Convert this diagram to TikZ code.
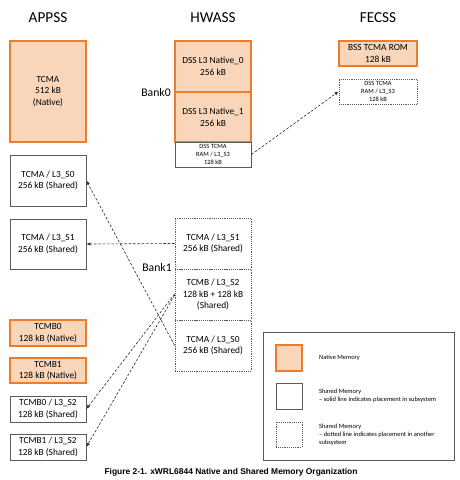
\documentclass[tikz,border=0pt]{standalone}
\usepackage{fontspec}
\setmainfont{Carlito}
\newfontfamily\capfont{Liberation Sans}
\usepackage[HTML]{xcolor}
\usepackage{tikz}
\usetikzlibrary{positioning, arrows, arrows.meta}

\definecolor{natline}{HTML}{EE7D2B}
\definecolor{natfill}{HTML}{F9D5B9}
\definecolor{boxline}{HTML}{5A5A5A}

\tikzset{
    membox/.style={rectangle, inner sep=0pt, align=center, minimum width=2.28cm, font=\fontsize{8}{10}\selectfont},
    native/.style={membox, draw=natline, fill=natfill, line width=1pt},
    shared/.style={membox, draw=boxline, line width=0.6pt},
    remote/.style={membox, draw=boxline, densely dotted, line width=0.6pt},
    link/.style={dashed, dash pattern=on 2.2pt off 1.5pt, line width=0.55pt, draw=black!80, -{Latex[length=3.5pt, width=3pt]}},
    title/.style={font=\fontsize{13}{15}\selectfont},
    tiny/.style={font=\fontsize{5.5}{7}\selectfont}
}

\begin{document}
\begin{tikzpicture}[x=0.03cm, y=-0.03cm]
\useasboundingbox (0,0) rectangle (460,480);

\node[title] (appss) at (48, 18) {APPSS};
\node[title] (hwass) at (213, 18) {HWASS};
\node[title] (fecss) at (378, 18) {FECSS};

% APPSS
\node[native, minimum height=3.03cm] (appTcma) at (48, 91.5) {TCMA\\512 kB\\(Native)};
\node[shared, minimum height=1.53cm] (appS0) at (48, 180.5) {TCMA / L3\_S0\\256 kB (Shared)};
\node[shared, minimum height=1.5cm] (appS1) at (48, 244) {TCMA / L3\_S1\\256 kB (Shared)};
\node[native, minimum height=0.78cm] (tcmbZero) at (48, 333) {TCMB0\\128 kB (Native)};
\node[native, minimum height=0.75cm] (tcmbOne) at (48, 370.5) {TCMB1\\128 kB (Native)};
\node[shared, minimum height=0.78cm] (tcmbZeroS) at (48, 409) {TCMB0 / L3\_S2\\128 kB (Shared)};
\node[shared, minimum height=0.78cm] (tcmbOneS) at (48, 447) {TCMB1 / L3\_S2\\128 kB (Shared)};

% HWASS
\node[native, minimum height=1.53cm] (natZero) at (213, 66.5) {DSS L3 Native\_0\\256 kB};
\node[native, minimum height=1.5cm] (natOne) at (213, 117) {DSS L3 Native\_1\\256 kB};
\node[shared, tiny, minimum height=0.75cm] (hwS3) at (213, 154.5) {DSS TCMA\\RAM / L3\_S3\\128 kB};
\node[remote, minimum height=1.53cm] (hwS1) at (213, 243.5) {TCMA / L3\_S1\\256 kB (Shared)};
\node[remote, minimum height=1.53cm] (hwS2) at (213, 294.5) {TCMB / L3\_S2\\128 kB + 128 kB\\(Shared)};
\node[remote, minimum height=1.53cm] (hwS0) at (213, 345.5) {TCMA / L3\_S0\\256 kB (Shared)};

\node[font=\fontsize{10}{12}\selectfont] (bankZero) at (156, 92) {Bank0};
\node[font=\fontsize{10}{12}\selectfont] (bankOne) at (157, 267) {Bank1};

% FECSS
\node[native, minimum width=2.34cm, minimum height=0.75cm] (bssRom) at (378, 53.5) {BSS TCMA ROM\\128 kB};
\node[remote, tiny, minimum width=2.34cm, minimum height=0.75cm] (feS3) at (378, 91.5) {DSS TCMA\\RAM / L3\_S3\\128 kB};

% connectors
\draw[link] (hwS3.east) -- (feS3.west);
\draw[link] (hwS0.west) -- (appS0.east);
\draw[link] (hwS1.west) -- (appS1.east);
\draw[link] ([yshift=0.5pt]hwS2.west) -- (tcmbZeroS.east);
\draw[link] ([yshift=-0.5pt]hwS2.west) -- (tcmbOneS.east);

% legend
\node[draw=boxline, line width=0.6pt, minimum width=5.73cm, minimum height=3.84cm] (legend) at (358.5, 396) {};
\node[native, minimum width=0.78cm, minimum height=0.78cm] (keyNative) at (289, 358) {};
\node[shared, minimum width=0.78cm, minimum height=0.78cm] (keyShared) at (289, 396) {};
\node[remote, minimum width=0.78cm, minimum height=0.75cm] (keyRemote) at (289, 434.5) {};
\node[tiny, anchor=west] (txtNative) at (315, 358) {Native Memory};
\node[tiny, anchor=west, align=left] (txtShared) at (315, 396) {Shared Memory\\-- solid line indicates placement in subsystem};
\node[tiny, anchor=west, align=left] (txtRemote) at (315, 434.5) {Shared Memory\\-- dotted line indicates placement in another\\subsystem};

\node[font=\capfont\bfseries\fontsize{7.2}{9}\selectfont] (caption) at (231, 472) {Figure 2-1. xWRL6844 Native and Shared Memory Organization};

\end{tikzpicture}
\end{document}
